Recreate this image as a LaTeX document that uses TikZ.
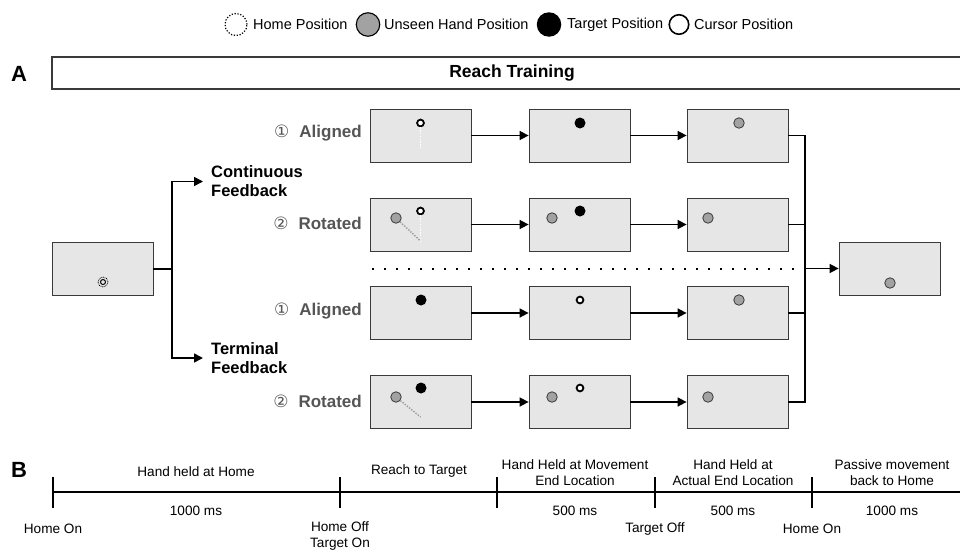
\documentclass[tikz,border=0pt]{standalone}
\usepackage{fontspec}
\setmainfont{Liberation Sans}
\newfontfamily\dejavu{DejaVu Sans}
\usetikzlibrary{arrows.meta}
\definecolor{boxfill}{HTML}{E6E6E7}
\definecolor{boxline}{HTML}{3A3A3A}
\definecolor{handgray}{HTML}{A2A2A2}
\definecolor{labgray}{HTML}{555555}
\definecolor{dotgray}{HTML}{9A9A9A}
\begin{document}
\begin{tikzpicture}[x=1pt,y=-1pt,
  scr/.style={draw=boxline,fill=boxfill,line width=0.8pt,minimum width=101pt,minimum height=53pt,inner sep=0pt},
  conn/.style={line width=1.6pt},
  arr/.style={-{Triangle[length=9pt,width=9pt]}},
  hand/.style={circle,draw=boxline,fill=handgray,line width=0.8pt,minimum size=10.5pt,inner sep=0pt},
  targ/.style={circle,fill=black,minimum size=11pt,inner sep=0pt},
  curs/.style={circle,draw=black,fill=white,line width=1.8pt,minimum size=6.8pt,inner sep=0pt},
  wdot/.style={draw=white,line width=1.4pt,dash pattern=on 1.4pt off 1.4pt},
  gdot/.style={draw=dotgray,line width=1.4pt,dash pattern=on 1.4pt off 1.4pt},
  rowlab/.style={anchor=east,inner sep=0pt,text=labgray,font=\bfseries\fontsize{17}{19}\selectfont},
  fb/.style={anchor=west,align=left,inner xsep=8pt,inner ysep=0pt,font=\bfseries\fontsize{16.5}{19}\selectfont},
  leg/.style={anchor=west,inner sep=0pt,font=\fontsize{14.5}{16}\selectfont},
  tl/.style={align=center,inner sep=0pt,font=\fontsize{13.6}{16}\selectfont},
  panel/.style={inner sep=0pt,font=\bfseries\fontsize{22}{24}\selectfont}
]
\fill[white] (0,0) rectangle (960,549);
\useasboundingbox (0,0) rectangle (960,549);

% ---------- legend ----------
\node[circle,draw=black,line width=1.2pt,dash pattern=on 1.2pt off 1.7pt,minimum size=22pt,inner sep=0pt] (lh) at (236,24.5) {};
\node[leg] (lht) at (253,24.5) {Home Position};
\node[circle,draw=black,fill=handgray,line width=1.1pt,minimum size=23.5pt,inner sep=0pt] (lg) at (368,24.5) {};
\node[leg] (lgt) at (384,24.5) {Unseen Hand Position};
\node[circle,fill=black,minimum size=24.5pt,inner sep=0pt] (lt) at (549,24.5) {};
\node[leg] (ltt) at (567,24.5) {Target Position};
\node[circle,draw=black,fill=white,line width=1.6pt,minimum size=19.5pt,inner sep=0pt] (lc) at (679,24.5) {};
\node[leg] (lct) at (694,24.5) {Cursor Position};

% ---------- panel A ----------
\node[panel] (pa) at (19,74) {A};
\node[draw=boxline,line width=1.2pt,minimum width=920pt,minimum height=32pt,inner sep=0pt,
      font=\bfseries\fontsize{17.5}{19}\selectfont] (rt) at (512,73) {Reach Training};

% home box
\node[scr] (h0) at (102.5,269) {};
\node[circle,draw=black,line width=0.8pt,dash pattern=on 0.8pt off 0.9pt,minimum size=10pt,inner sep=0pt] (hh) at (103,282) {};
\node[circle,draw=black,line width=1pt,minimum size=5pt,inner sep=0pt] (hhi) at (103,282) {};

% feedback branches
\coordinate (jl) at (172,269);
\node[fb] (cf) at (203,181.5) {Continuous\\Feedback};
\node[fb] (tf) at (203,358) {Terminal\\Feedback};
\draw[conn] (h0.east) -- (jl);
\draw[conn,arr] (jl) |- (cf.west);
\draw[conn,arr] (jl) |- (tf.west);

% row labels
\node[rowlab] (l1) at (362,133) {{\dejavu\mdseries\fontsize{17}{13}\selectfont ①}\hspace{10pt}Aligned};
\node[rowlab] (l2) at (362,223) {{\dejavu\mdseries\fontsize{17}{13}\selectfont ②}\hspace{10pt}Rotated};
\node[rowlab] (l3) at (362,311) {{\dejavu\mdseries\fontsize{17}{13}\selectfont ①}\hspace{10pt}Aligned};
\node[rowlab] (l4) at (362,401) {{\dejavu\mdseries\fontsize{17}{13}\selectfont ②}\hspace{10pt}Rotated};

% boxes
\node[scr] (b11) at (420.5,135.5) {};
\node[scr] (b12) at (579.5,135.5) {};
\node[scr] (b13) at (737.5,135.5) {};
\node[scr] (b21) at (420.5,224.5) {};
\node[scr] (b22) at (579.5,224.5) {};
\node[scr] (b23) at (737.5,224.5) {};
\node[scr] (b31) at (420.5,313) {};
\node[scr] (b32) at (579.5,313) {};
\node[scr] (b33) at (737.5,313) {};
\node[scr] (b41) at (420.5,402) {};
\node[scr] (b42) at (579.5,402) {};
\node[scr] (b43) at (737.5,402) {};
\node[scr] (f0) at (889.5,268.5) {};

% row 1 contents
\coordinate (o11) at (420.5,148);
\node[curs] (c11) at (420.5,123) {};
\draw[wdot] (c11.south) -- (o11);
\node[targ] (t12) at (580,123) {};
\node[hand] (g13) at (739,123) {};

% row 2 contents
\coordinate (o21) at (420.5,241);
\node[hand] (g21) at (396,218) {};
\node[curs] (c21) at (420.5,211) {};
\draw[wdot] (c21.south) -- (o21);
\draw[gdot] (g21) -- (o21);
\node[hand] (g22) at (552,218) {};
\node[targ] (t22) at (580,211) {};
\node[hand] (g23) at (708,218) {};

% row 3 contents
\node[targ] (t31) at (421,300) {};
\node[curs] (c32) at (580,300) {};
\node[hand] (g33) at (739,300) {};

% row 4 contents
\coordinate (o41) at (420.5,417);
\node[hand] (g41) at (396,397) {};
\node[targ] (t41) at (421,388) {};
\draw[gdot] (g41) -- (o41);
\node[hand] (g42) at (552,397) {};
\node[curs] (c42) at (580,388) {};
\node[hand] (g43) at (708,397) {};

% final box content
\node[hand] (gf) at (890,283) {};

% row arrows
\draw[conn,arr] (b11) -- (b12);
\draw[conn,arr] (b12) -- (b13);
\draw[conn,arr] (b21) -- (b22);
\draw[conn,arr] (b22) -- (b23);
\draw[conn,arr] (b31) -- (b32);
\draw[conn,arr] (b32) -- (b33);
\draw[conn,arr] (b41) -- (b42);
\draw[conn,arr] (b42) -- (b43);

% merge to final
\coordinate (jr) at (805,268.5);
\draw[conn] (b13.east) -| (jr);
\draw[conn] (b23.east) -| (jr);
\draw[conn] (b33.east) -| (jr);
\draw[conn] (b43.east) -| (jr);
\draw[conn,arr] (jr) -- (f0.west);

% dotted separator
\coordinate (d0) at (372,269);
\coordinate (d1) at (795,269);
\draw[line width=2pt,dash pattern=on 2pt off 10pt] (d0) -- (d1);

% ---------- panel B ----------
\node[panel] (pb) at (19,470) {B};
\coordinate (ts) at (53,492);
\coordinate (te) at (962,492);
\draw[conn] (ts) -- (te);
\foreach \x in {53,340,497,655,812} \draw[conn] (\x,477) -- (\x,508);

\node[tl] (s1) at (196,472) {Hand held at Home};
\node[tl] (s2) at (419,471) {Reach to Target};
\node[tl] (s3) at (575,473) {Hand Held at Movement\\End Location};
\node[tl] (s4) at (733,473) {Hand Held at\\Actual End Location};
\node[tl] (s5) at (892,473) {Passive movement\\back to Home};

\node[tl] (m1) at (196,511) {1000 ms};
\node[tl] (m3) at (575,511) {500 ms};
\node[tl] (m4) at (733,511) {500 ms};
\node[tl] (m5) at (892,511) {1000 ms};

\node[tl] (e0) at (53,529) {Home On};
\node[tl] (e1) at (340,536) {Home Off\\Target On};
\node[tl] (e3) at (655,529) {Target Off};
\node[tl] (e4) at (812,529) {Home On};
\end{tikzpicture}
\end{document}
